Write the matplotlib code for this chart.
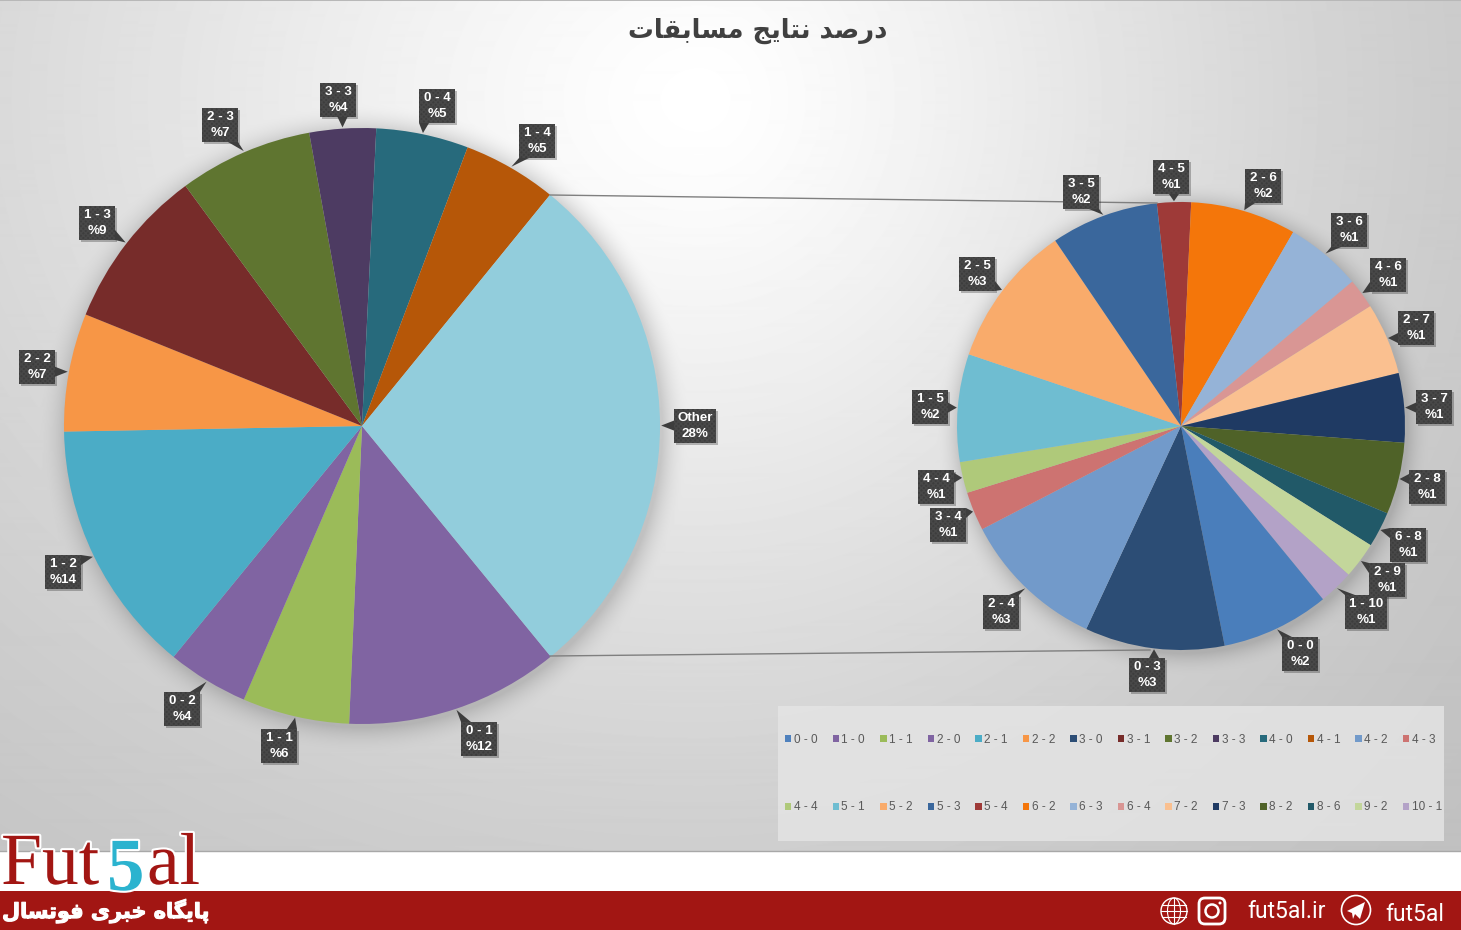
import numpy as np
import matplotlib
matplotlib.use('Agg')
import matplotlib.pyplot as plt
from matplotlib.patches import Rectangle, Polygon, Circle, FancyBboxPatch, Patch, Ellipse
from matplotlib.lines import Line2D
import matplotlib.patheffects as pe

W, H = 1461, 930

# ---- data -----
main_scores = ['0 - 1', '1 - 1', '0 - 2', '1 - 2', '2 - 2', '1 - 3', '2 - 3', '3 - 3', '0 - 4', '1 - 4', 'Other']
main_values = [11.6, 5.8, 4.4, 13.8, 6.4, 8.8, 7.25, 3.6, 5.0, 5.1, 28.2]
main_pct = ['%12', '%6', '%4', '%14', '%7', '%9', '%7', '%4', '%5', '%5', '28%']
main_colors = ['#8064A2', '#9BBB59', '#8064A2', '#4BACC6', '#F79646', '#772C2A',
               '#5F7530', '#4D3B62', '#276A7C', '#B65708', '#92CDDC']

sub_scores = ['4 - 5', '2 - 6', '3 - 6', '4 - 6', '2 - 7', '3 - 7', '2 - 8', '6 - 8', '2 - 9',
              '1 - 10', '0 - 0', '0 - 3', '2 - 4', '3 - 4', '4 - 4', '1 - 5', '2 - 5', '3 - 5']
sub_values = [0.69, 2.15, 1.55, 0.61, 1.46, 1.41, 1.46, 0.72, 0.74,
              0.71, 2.20, 2.84, 2.94, 0.79, 0.63, 2.19, 2.91, 2.19]
sub_pct = ['%1', '%2', '%1', '%1', '%1', '%1', '%1', '%1', '%1',
           '%1', '%2', '%3', '%3', '%1', '%1', '%2', '%3', '%2']
sub_colors = ['#9E3A38', '#F4760A', '#95B3D7', '#D99694', '#FAC090', '#1F3A63', '#4F6228', '#215968',
              '#C3D69B', '#B3A2C7', '#4A7EBB', '#2C4D75', '#729ACA', '#CD7371', '#AFC97A', '#6FBDD1',
              '#F9AB6B', '#3A679C']

legend_row1 = ['0 - 0', '1 - 0', '1 - 1', '2 - 0', '2 - 1', '2 - 2', '3 - 0', '3 - 1', '3 - 2', '3 - 3', '4 - 0', '4 - 1', '4 - 2', '4 - 3']
legend_row2 = ['4 - 4', '5 - 1', '5 - 2', '5 - 3', '5 - 4', '6 - 2', '6 - 3', '6 - 4', '7 - 2', '7 - 3', '8 - 2', '8 - 6', '9 - 2', '10 - 1']
legend_colors1 = ['#4F81BD', '#8064A2', '#9BBB59', '#8064A2', '#4BACC6', '#F79646', '#2C4D75', '#772C2A', '#5F7530', '#4D3B62', '#276A7C', '#B65708', '#729ACA', '#CD7371']
legend_colors2 = ['#AFC97A', '#6FBDD1', '#F9AB6B', '#3A679C', '#9E3A38', '#F4760A', '#95B3D7', '#D99694', '#FAC090', '#1F3A63', '#4F6228', '#215968', '#C3D69B', '#B3A2C7']

# Persian text in presentation forms, logical order (matplotlib does no shaping or bidi)
title_forms = '\uFEA9\uFEAD\uFEBB\uFEAA \uFEE7\uFE98\uFE8E\uFBFE\uFE9E \uFEE3\uFEB4\uFE8E\uFE91\uFED8\uFE8E\uFE95'
footer_forms = '\uFB58\uFE8E\uFBFE\uFB95\uFE8E\uFEE9 \uFEA7\uFE92\uFEAE\uFBFC \uFED3\uFEEE\uFE97\uFEB4\uFE8E\uFEDD'

# ---- layout (pixels, y down) -----
MAIN_C, MAIN_R = (362, 426), 298
SUB_C, SUB_R = (1181, 426), 224
MAIN_START, SUB_START = -50.7, 96.2
main_label_pos = [(479, 739), (279, 746), (182, 709), (63, 572), (37, 367), (97, 223),
                  (220, 125), (338, 100), (437, 106), (537, 141), (695, 426)]
sub_label_pos = [(1171, 177), (1263, 186), (1349, 230), (1388, 275), (1416, 328), (1434, 407),
                 (1427, 487), (1408, 545), (1387, 580), (1366, 612), (1300, 654), (1147, 675),
                 (1001, 612), (948, 525), (936, 487), (930, 407), (977, 274), (1081, 192)]
CHART_BOTTOM = 851
BAND_TOP = 891


def Y(py):
    return H - py


fig = plt.figure(figsize=(W / 100, H / 100), dpi=100, facecolor='white')
ax = fig.add_axes([0, 0, 1, 1])

# ---- background gradient with soft pie shadows -----
yy, xx = np.mgrid[0:CHART_BOTTOM, 0:W]
sx = np.where(xx < 700, 1100.0, 850.0)
d = np.sqrt(((xx - 700) / sx) ** 2 + ((yy - 100) / 900.0) ** 2)
bg = 1.0 - 0.28 * np.tanh(1.05 * d ** 1.3)
for (cx, cy), r, blur in [(MAIN_C, MAIN_R, 28), (SUB_C, SUB_R, 24)]:
    dist = np.sqrt((xx - cx - 2) ** 2 + (yy - cy - 3) ** 2)
    t = np.clip((r + blur - dist) / blur, 0, 1)
    bg *= 1 - 0.15 * t ** 2
bg[:2, :] = 0.72
ax.imshow(bg, cmap='gray', vmin=0, vmax=1, extent=(0, W, Y(CHART_BOTTOM), H),
          origin='upper', aspect='auto', zorder=0, interpolation='bilinear')

# ---- pies -----
main_w, _ = ax.pie(main_values, colors=main_colors, center=(MAIN_C[0], Y(MAIN_C[1])), radius=MAIN_R,
                   startangle=MAIN_START, counterclock=False, wedgeprops=dict(linewidth=0), frame=True)
sub_w, _ = ax.pie(sub_values, colors=sub_colors, center=(SUB_C[0], Y(SUB_C[1])), radius=SUB_R,
                  startangle=SUB_START, counterclock=False, wedgeprops=dict(linewidth=0), frame=True)
for w in list(main_w) + list(sub_w):
    w.set_zorder(2)

ax.set_xlim(0, W)
ax.set_ylim(0, H)
ax.set_aspect('auto')
ax.axis('off')

# ---- connector lines between the pies -----
ax.add_line(Line2D([550, 1157], [Y(195), Y(203)], color='#7f7f7f', lw=1.0, zorder=3))
ax.add_line(Line2D([550, 1150], [Y(656), Y(650)], color='#7f7f7f', lw=1.0, zorder=3))


# ---- callout data labels -----
def callout(wedge, cx, cy, r, pos, line1, line2):
    mid = np.deg2rad((wedge.theta1 + wedge.theta2) / 2)
    tx = cx + r * 1.004 * np.cos(mid)
    ty = cy - r * 1.004 * np.sin(mid)
    bw = 42 if (len(line1) > 5 or line1 == 'Other') else 36
    bh = 34
    x0, x1 = pos[0] - bw / 2, pos[0] + bw / 2
    y0, y1 = pos[1] - bh / 2, pos[1] + bh / 2
    # tail base on the box side nearest the tip
    dx = tx - pos[0]
    dy = ty - pos[1]
    if abs(dx) / bw > abs(dy) / bh:
        ex = x0 if dx < 0 else x1
        c = np.clip(ty, y0 + 5, y1 - 5)
        base = [(ex, c - 5), (ex, c + 5)]
    else:
        ey = y0 if dy < 0 else y1
        c = np.clip(tx, x0 + 5, x1 - 5)
        base = [(c - 5, ey), (c + 5, ey)]
    ax.add_patch(Rectangle((x0 + 2, Y(y1 + 2)), bw, bh, fc='#000000', alpha=0.25, lw=0, zorder=4))
    ax.add_patch(Rectangle((x0, Y(y1)), bw, bh, fc='#3d3d3d', ec='#484848', hatch='xxxxxxx', lw=0, zorder=5))
    ax.add_patch(Polygon([(tx, Y(ty)), (base[0][0], Y(base[0][1])), (base[1][0], Y(base[1][1]))],
                         closed=True, fc='#3d3d3d', ec='none', zorder=5))
    ax.text(pos[0], Y(pos[1] - 8), line1, color='white', fontsize=9.6, fontweight='bold',
            family='Liberation Sans', ha='center', va='center', zorder=6)
    ax.text(pos[0], Y(pos[1] + 8), line2, color='white', fontsize=9.6, fontweight='bold',
            family='Liberation Sans', ha='center', va='center', zorder=6)


for w, p, a, b in zip(main_w, main_label_pos, main_scores, main_pct):
    callout(w, MAIN_C[0], MAIN_C[1], MAIN_R, p, a, b)
for w, p, a, b in zip(sub_w, sub_label_pos, sub_scores, sub_pct):
    callout(w, SUB_C[0], SUB_C[1], SUB_R, p, a, b)

# ---- legend panel -----
ax.add_patch(Rectangle((778, Y(841)), 666, 135, fc='#e4e4e4', alpha=0.85, lw=0, zorder=1))
handles, labels = [], []
for a, b, ca, cb in zip(legend_row1, legend_row2, legend_colors1, legend_colors2):
    handles += [Patch(fc=ca, lw=0), Patch(fc=cb, lw=0)]
    labels += [a, b]
leg = ax.legend(handles, labels, ncol=14, loc='upper left', bbox_to_anchor=(785, Y(734)),
                bbox_transform=ax.transData, frameon=False, borderpad=0, borderaxespad=0,
                prop={'family': 'Liberation Sans', 'size': 8.5}, labelcolor='#595959',
                handlelength=0.55, handleheight=0.55, handletextpad=0.2,
                columnspacing=1.28, labelspacing=4.7)
leg.set_zorder(3)

# ---- title -----
ax.text(758, Y(31), title_forms[::-1], fontsize=18.5, fontweight='bold', color='#404040',
        family='DejaVu Sans', ha='center', va='center', zorder=6)

# ---- footer -----
ax.add_line(Line2D([0, W], [Y(CHART_BOTTOM), Y(CHART_BOTTOM)], color='#a8a8a8', lw=1, zorder=1))
ax.add_patch(Rectangle((0, 0), W, H - BAND_TOP, fc='#A21613', lw=0, zorder=1))
halo = [pe.withStroke(linewidth=3, foreground='white')]
ax.text(1, Y(884), 'Fut', fontsize=53, color='#A21613', family='Liberation Serif', ha='left',
        va='baseline', zorder=7, path_effects=halo)
ax.text(107, Y(890), '5', fontsize=54, fontweight='bold', color='#2BB3CF', family='Liberation Serif', ha='left',
        va='baseline', zorder=7, path_effects=halo)
ax.text(147, Y(884), 'al', fontsize=53, color='#A21613', family='Liberation Serif', ha='left',
        va='baseline', zorder=7, path_effects=halo)
ax.text(2, Y(911), footer_forms[::-1], fontsize=15, fontweight='bold', color='white', family='DejaVu Sans',
        ha='left', va='center', zorder=7,
        path_effects=[pe.withStroke(linewidth=0.8, foreground='white')])
ax.text(1247, Y(911), 'fut5al.ir', fontsize=16.5, color='white', family='Roboto', ha='left', va='center', zorder=7)
ax.text(1385, Y(914), 'fut5al', fontsize=16.5, color='white', family='Roboto', ha='left', va='center', zorder=7)

# footer icons
gx, gy, gr = 1174, Y(911), 13
ax.add_patch(Circle((gx, gy), gr, fc='none', ec='white', lw=1, zorder=7))
ax.add_patch(Ellipse((gx, gy), gr, 2 * gr, fc='none', ec='white', lw=0.8, zorder=7))
ax.add_line(Line2D([gx, gx], [gy - gr, gy + gr], color='white', lw=0.8, zorder=7))
for off in (-6, 0, 6):
    hw = np.sqrt(gr ** 2 - off ** 2)
    ax.add_line(Line2D([gx - hw, gx + hw], [gy + off, gy + off], color='white', lw=0.8, zorder=7))
ix, iy = 1212, Y(911)
ax.add_patch(FancyBboxPatch((ix - 10, iy - 10), 20, 20, boxstyle='round,pad=3,rounding_size=6', fc='none', ec='white', lw=2, zorder=7))
ax.add_patch(Circle((ix, iy), 6.5, fc='none', ec='white', lw=1.8, zorder=7))
ax.add_patch(Circle((ix + 8, iy + 8), 1.5, fc='white', lw=0, zorder=7))
tx, ty = 1356, Y(910)
ax.add_patch(Circle((tx, ty), 14.5, fc='none', ec='white', lw=1.2, zorder=7))
ax.add_patch(Polygon([(tx - 9, ty - 1), (tx + 9, ty + 8), (tx + 4, ty - 9), (tx - 1, ty - 4), (tx - 3, ty - 9), (tx - 4, ty - 3)],
                     closed=True, fc='white', lw=0, zorder=7))

fig.savefig('out.png', dpi=100)
